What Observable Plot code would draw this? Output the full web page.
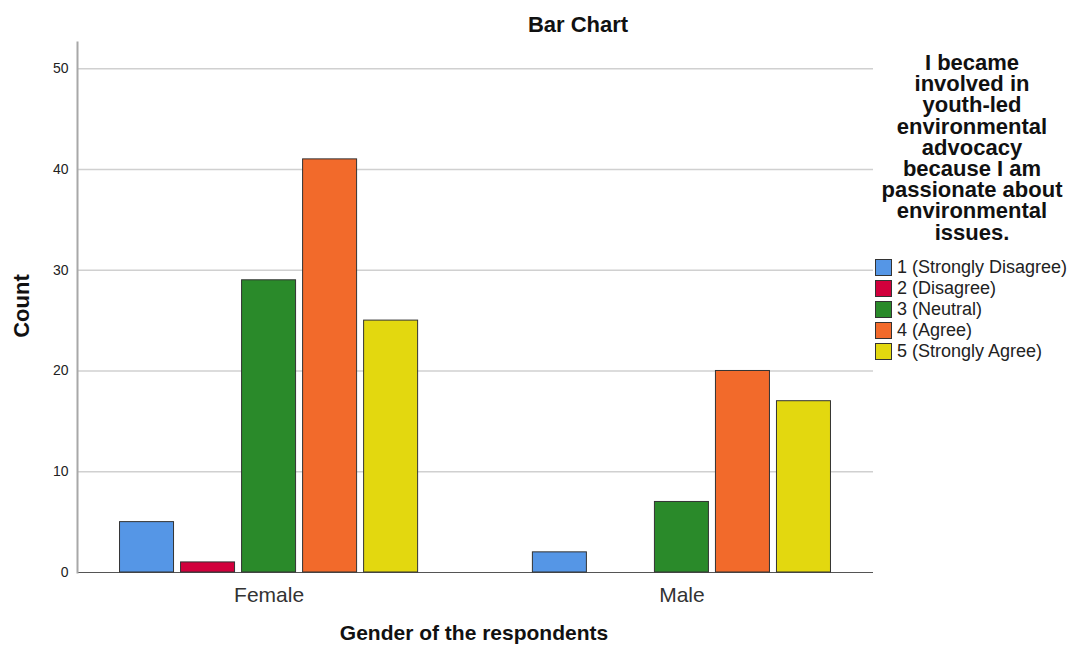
<!DOCTYPE html>
<html><head><meta charset="utf-8">
<script src="https://cdn.jsdelivr.net/npm/d3@7"></script>
<script src="https://cdn.jsdelivr.net/npm/@observablehq/plot@0.6"></script>
<style>
body{margin:0;background:#fff;font-family:"Liberation Sans",Arial,sans-serif;color:#111;}
#wrap{position:relative;width:1070px;height:645px;overflow:hidden;background:#fff;}
#back,#front{position:absolute;left:0;top:0;}
.abs{position:absolute;white-space:nowrap;}
#title{left:428px;width:300px;top:12px;text-align:center;font-weight:bold;font-size:22px;}
#ylab{left:22px;top:306px;font-weight:bold;font-size:22px;transform:translate(-50%,-50%) rotate(-90deg);}
#xlab{left:474px;top:621px;transform:translateX(-50%);font-weight:bold;font-size:21px;}
#legend{left:874px;top:52px;width:196px;}
#ltitle{text-align:center;font-weight:bold;font-size:22px;line-height:21.2px;width:196px;}
.item{display:flex;align-items:center;height:21px;font-size:18px;color:#222;}
.sw{width:17px;height:17px;border:1px solid #333;box-sizing:border-box;margin-right:5px;margin-left:1px;flex:none;}
</style></head>
<body>
<div id="wrap">
  <div id="back"></div>
  <div id="front"></div>
  <div id="title" class="abs">Bar Chart</div>
  <div id="ylab" class="abs">Count</div>
  <div id="xlab" class="abs">Gender of the respondents</div>
  <div id="legend" class="abs">
    <div id="ltitle">I became<br>involved in<br>youth-led<br>environmental<br>advocacy<br>because I am<br>passionate about<br>environmental<br>issues.</div>
    <div id="items" style="margin-top:14px"></div>
  </div>
</div>
<script>
const genders = ["Female", "Male"];
const responses = ["1 (Strongly Disagree)", "2 (Disagree)", "3 (Neutral)", "4 (Agree)", "5 (Strongly Agree)"];
const femaleCounts = [5, 1, 29, 41, 25];
const maleCounts = [2, 0, 7, 20, 17];
const colors = ["#5596e6", "#d1003c", "#2a8a2a", "#f26a2b", "#e3d80f"];
const yTicks = [0, 10, 20, 30, 40, 50];

const countsByGender = [femaleCounts, maleCounts];
const rows = genders.flatMap((g, gi) => responses.map((r, ri) => ({gender: g, response: r, count: countsByGender[gi][ri]})));

const common = {
  width: 1070,
  height: 645,
  marginTop: 42,
  marginBottom: 73,
  marginLeft: 77,
  marginRight: 197,
  y: {domain: [0, 52.6], axis: null}
};
const bandPad = {type: "band", paddingInner: 0.278, paddingOuter: 0.103, round: false};

// Background: grid, axes and group labels across the whole frame
const back = Plot.plot({
  ...common,
  style: {fontFamily: "Liberation Sans, Arial, sans-serif", color: "#222", background: "#fff"},
  x: {domain: genders, ...bandPad, label: null},
  marks: [
    Plot.ruleY(yTicks.filter(d => d > 0), {stroke: "#d0d0d0", strokeWidth: 1.5}),
    Plot.ruleY([0], {stroke: "#555", strokeWidth: 1}),
    Plot.frame({anchor: "left", stroke: "#a8a8a8", strokeWidth: 2}),
    Plot.axisY(yTicks, {tickSize: 0, tickPadding: 9, fontSize: 14, label: null, fill: "#222"}),
    Plot.axisX({tickSize: 0, tickPadding: 15, fontSize: 21, label: null, fill: "#333"})
  ]
});
document.getElementById("back").appendChild(back);

// Foreground: clustered bars
const front = Plot.plot({
  ...common,
  style: {background: "transparent"},
  fx: {domain: genders, ...bandPad, axis: null},
  x: {domain: responses, paddingInner: 0.115, paddingOuter: 0, round: false, axis: null},
  color: {domain: responses, range: colors},
  marks: [
    Plot.barY(rows.filter(d => d.count > 0), {fx: "gender", x: "response", y: "count", fill: "response", stroke: "#333", strokeWidth: 1})
  ]
});
document.getElementById("front").appendChild(front);

const items = document.getElementById("items");
responses.forEach((r, i) => {
  const div = document.createElement("div");
  div.className = "item";
  const sw = document.createElement("span");
  sw.className = "sw";
  sw.style.background = colors[i];
  div.appendChild(sw);
  div.appendChild(document.createTextNode(r));
  items.appendChild(div);
});
</script>
</body></html>
